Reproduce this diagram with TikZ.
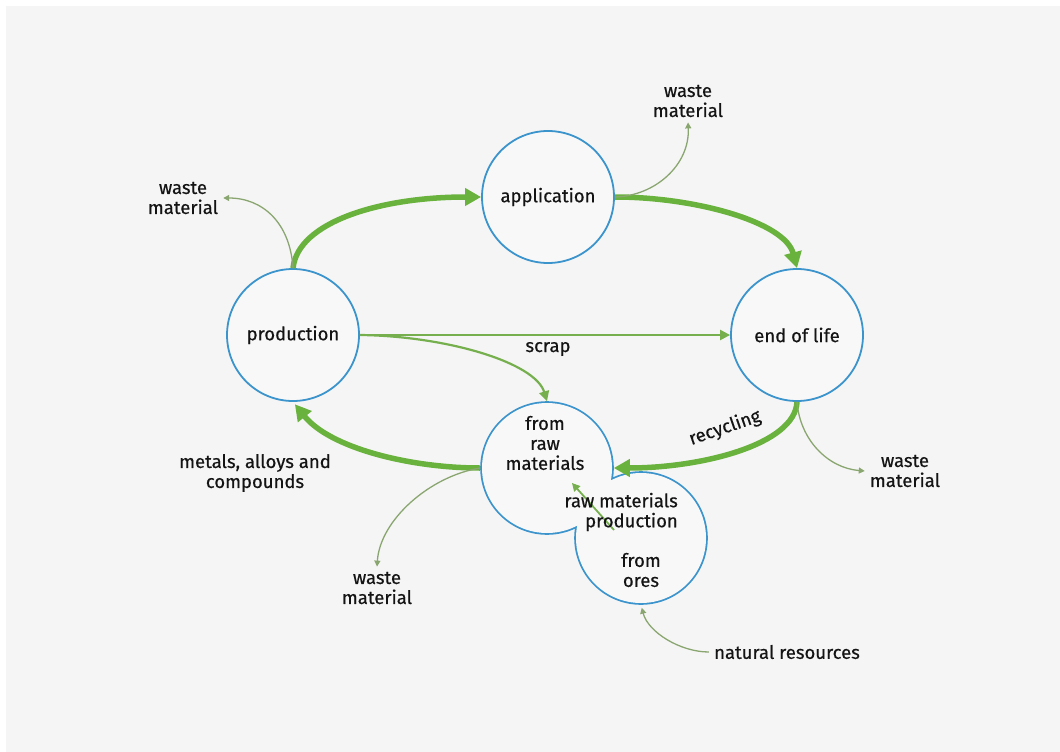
\documentclass[tikz,border=0pt]{standalone}
\usepackage{fontspec}
\setmainfont{Fira Sans}
\newfontfamily\lblfam{Fira Sans}[FakeBold=0.5]
\usetikzlibrary{arrows.meta}
\definecolor{bgc}{RGB}{245,245,245}
\definecolor{cfill}{RGB}{248,248,248}
\definecolor{cblue}{RGB}{60,148,205}
\definecolor{cgreen}{RGB}{106,178,62}
\definecolor{cthin}{RGB}{118,176,78}
\definecolor{cwaste}{RGB}{138,166,112}
\definecolor{ctext}{RGB}{20,20,20}
\newcommand{\lblfont}{\lblfam\fontsize{18.5}{20}\selectfont}
\begin{document}
\begin{tikzpicture}[x=1pt,y=-1pt,
  ring/.style={circle, draw=cblue, line width=1.8pt, fill=cfill, minimum size=132pt, inner sep=0pt, font=\lblfont, text=ctext},
  blob/.style={circle, draw=cblue, line width=3.6pt, minimum size=130pt, inner sep=0pt},
  lbl/.style={font=\lblfont, align=center, inner sep=5pt, text=ctext},
  bigarrow/.style={draw=cgreen, line width=5.5pt, -{Triangle[length=16pt,width=17pt]}},
  midarrow/.style={draw=cthin, line width=2.2pt, -{Triangle[length=10pt,width=10pt]}},
  wastearrow/.style={draw=cwaste, line width=1.3pt, -{Triangle[length=6pt,width=6pt]}},
]
\useasboundingbox (0,0) rectangle (1060,752);
\fill[white] (0,0) rectangle (1060,752);
\fill[bgc] (6,6) rectangle (1060,752);

% single circles
\node[ring] (prod) at (293,335) {production};
\node[ring] (app) at (548,197) {application};
\node[ring] (eol) at (797,335) {end of life};

% union of two circles (raw materials production)
\node[blob] (raw) at (547,468) {};
\node[blob] (ores) at (641,538) {};
\fill[cfill] (raw.center) circle[radius=65pt];
\fill[cfill] (ores.center) circle[radius=65pt];

% labels
\node[lbl] (w1) at (183,198) {waste\\material};
\node[lbl] (w2) at (688,101) {waste\\material};
\node[lbl] (w3) at (905,471) {waste\\material};
\node[lbl] (w4) at (377,588) {waste\\material};
\node[lbl] (nat) at (787,652) {natural resources};
\node[lbl] (scrap) at (548,349) {scrap};
\node[lbl] (metals) at (255,473) {metals, alloys and\\compounds};
\node[lbl, rotate=19, inner sep=1pt] (recyc) at (725,428) {recycling};
\node[lbl] (fromraw) at (545,443) {from\\raw\\materials};
\node[lbl] (fromores) at (641,570) {from\\ores};

% main flows
\draw[bigarrow] (prod.north) .. controls (298,222) and (380,197) .. (app.west);
\draw[bigarrow] (app.east) .. controls (695,197) and (785,222) .. (eol.north);
\draw[bigarrow] (eol.south) .. controls (795,445) and (700,468) .. (raw.east);
\draw[bigarrow, shorten >=3pt] (raw.west) .. controls (410,468) and (330,448) .. (prod.south);
\draw[midarrow] (prod.east) -- (eol.west);
\draw[midarrow] (prod.east) .. controls (445,336) and (535,362) .. (raw.north);

% waste flows
\draw[wastearrow] (prod.north) .. controls (290,222) and (262,198) .. (w1.east);
\draw[wastearrow] (app.east) .. controls (655,196) and (690,165) .. (w2.south);
\draw[wastearrow] (eol.south) .. controls (800,440) and (828,468) .. (w3.west);
\draw[wastearrow] (raw.west) .. controls (430,476) and (380,520) .. (w4.north);
\draw[wastearrow, shorten >=3pt] (nat.west) .. controls (680,652) and (648,632) .. (ores.south);

% inner arrow
\coordinate (rmpA) at (614,530);
\coordinate (rmpB) at (572,483);
\draw[draw=cthin, line width=1.8pt, -{Triangle[length=8pt,width=8pt]}] (rmpA) -- (rmpB);
\node[lbl, align=right, anchor=east] (rmp) at (683,512) {raw materials\\production};
\end{tikzpicture}
\end{document}
